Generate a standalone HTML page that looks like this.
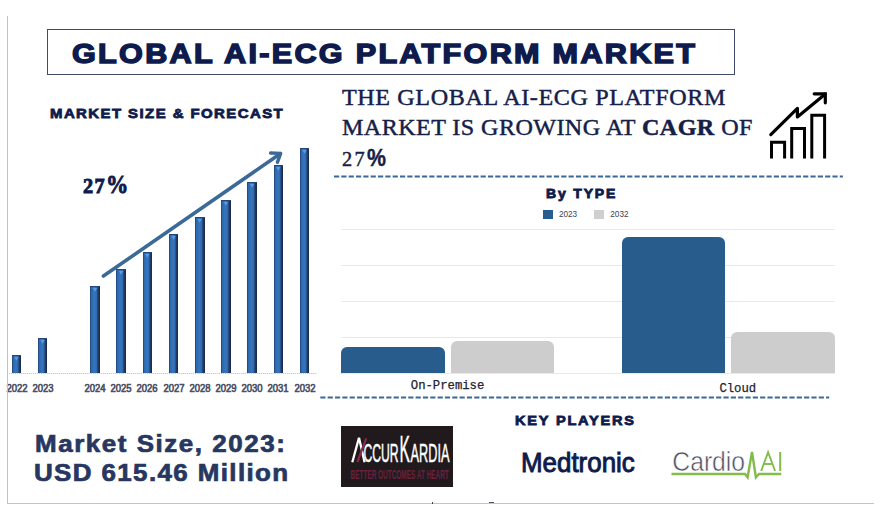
<!DOCTYPE html>
<html><head><meta charset="utf-8">
<style>
*{margin:0;padding:0;box-sizing:border-box}
html,body{width:885px;height:516px;overflow:hidden;background:#fff}
body{position:relative;font-family:"Liberation Sans",sans-serif}
.a{position:absolute;white-space:nowrap;transform-origin:0 0;line-height:1}
.navy{color:#0e1b4c}
.bar{position:absolute;width:9.5px;background:linear-gradient(90deg,#1f3c6e 0%,#2d68ad 14%,#3675bd 45%,#2f6aae 66%,#23406f 78%,#1a2642 100%);box-shadow:inset 0 1px 0 #24467a}
.bar:after{content:"";position:absolute;left:2.2px;top:1.6px;width:5px;height:4.2px;background:#5a9ae2;clip-path:polygon(0 0,100% 0,50% 100%)}
.yr{position:absolute;top:383.7px;font-size:10.2px;color:#474c5f;width:30px;text-align:center;line-height:1;font-weight:400;transform:scaleX(0.93);-webkit-text-stroke:0.6px #474c5f}
.grid{position:absolute;left:341px;width:494px;height:1px;background:#e6e9ed}
.ser{font-family:'Liberation Serif';font-size:23.4px;color:#152048;-webkit-text-stroke:0.45px #152048}
.ms{font-size:23.6px;font-weight:700;color:#27375f;transform:scaleX(1.1);-webkit-text-stroke:0.7px #27375f}
</style></head><body>

<!-- frame lines -->
<div style="position:absolute;left:7px;top:503px;width:867px;height:1.4px;background:#b5c7d8"></div>

<div style="position:absolute;left:432px;top:501.5px;width:1px;height:2px;background:#3a3f55"></div>
<div style="position:absolute;left:489px;top:501.8px;width:4.5px;height:1px;background:#4a4f65"></div>

<!-- title box -->
<div style="position:absolute;left:47px;top:29px;width:688px;height:46px;border:1.2px solid #424a69"></div>
<div class="a navy" style="left:71.5px;top:39.8px;font-size:27.8px;font-weight:700;transform:scaleX(1.1);letter-spacing:2.1px;-webkit-text-stroke:1.5px #0e1b4c">GLOBAL AI-ECG PLATFORM MARKET</div>

<!-- market size & forecast -->
<div class="a navy" style="left:49.5px;top:106.8px;font-size:13.6px;font-weight:700;transform:scaleX(1.1);letter-spacing:1.3px;-webkit-text-stroke:0.8px #0e1b4c">MARKET SIZE &amp; FORECAST</div>

<!-- 27% left -->
<div class="a navy" style="left:83px;top:174.3px;font-family:'Liberation Serif';font-size:20.3px;font-weight:700;-webkit-text-stroke:0.9px #0e1b4c;line-height:22px"><span style="letter-spacing:1.4px">27</span><span style="font-size:24.8px;display:inline-block;transform:scaleX(0.9);transform-origin:0 100%">%</span></div>

<!-- bar chart -->
<div style="position:absolute;left:9px;top:373px;width:308px;height:1px;background:repeating-linear-gradient(90deg,#cdcdcd 0 1.5px,#ececec 1.5px 2px)"></div>
<div class="bar" style="left:11.7px;top:355px;height:18px"></div>
<div class="bar" style="left:37.9px;top:338px;height:35px"></div>
<div class="bar" style="left:90.3px;top:286px;height:87px"></div>
<div class="bar" style="left:116.4px;top:269px;height:104px"></div>
<div class="bar" style="left:142.6px;top:252px;height:121px"></div>
<div class="bar" style="left:168.8px;top:234px;height:139px"></div>
<div class="bar" style="left:195px;top:217px;height:156px"></div>
<div class="bar" style="left:221.2px;top:200px;height:173px"></div>
<div class="bar" style="left:247.4px;top:182px;height:191px"></div>
<div class="bar" style="left:273.6px;top:165px;height:208px"></div>
<div class="bar" style="left:299.8px;top:148px;height:225px"></div>

<div class="yr" style="left:2.2px">2022</div>
<div class="yr" style="left:27.7px">2023</div>
<div class="yr" style="left:80.1px">2024</div>
<div class="yr" style="left:106.2px">2025</div>
<div class="yr" style="left:132.4px">2026</div>
<div class="yr" style="left:158.6px">2027</div>
<div class="yr" style="left:184.8px">2028</div>
<div class="yr" style="left:211px">2029</div>
<div class="yr" style="left:237.2px">2030</div>
<div class="yr" style="left:263.4px">2031</div>
<div class="yr" style="left:289.6px">2032</div>

<svg style="position:absolute;left:0;top:0" width="885" height="516">
  <g stroke="#3b6a98" stroke-width="3.6" stroke-linecap="round" stroke-linejoin="round" fill="none">
    <line x1="103.4" y1="276.1" x2="280.2" y2="153.7"/>
    <polyline stroke-width="3.4" points="270.6,153 280.7,153.4 277.4,162.3"/>
  </g>
</svg>

<!-- headline serif -->
<div class="a ser" style="left:341.5px;top:86.3px;transform:scaleX(1.03);letter-spacing:0.6px">THE GLOBAL AI-ECG PLATFORM</div>
<div class="a ser" style="left:341.5px;top:115.8px;transform:scaleX(1.03);letter-spacing:0.42px">MARKET IS GROWING AT <b>CAGR</b> OF</div>
<div class="a ser" style="left:342px;top:145.6px;font-size:20.4px"><span style="letter-spacing:2.2px">27</span><b style="font-family:'Liberation Sans';font-size:24.8px;display:inline-block;transform:scaleX(0.86);transform-origin:0 0;-webkit-text-stroke:0.4px #152048;vertical-align:-0.3px">%</b></div>

<!-- growth icon -->
<svg style="position:absolute;left:0;top:0" width="885" height="516">
  <g stroke="#000" stroke-width="3" fill="none" stroke-linejoin="miter">
    <polyline points="771.5,158.5 771.5,142.3 784.6,142.3 784.6,158.5"/>
    <polyline points="791.7,158.5 791.7,128.6 804.5,128.6 804.5,158.5"/>
    <polyline points="811.8,158.5 811.8,115.3 824.6,115.3 824.6,158.5"/>
    <polyline stroke-width="3.2" stroke-linecap="round" stroke-linejoin="round" points="770.8,134.6 797.4,108.4 797.4,117 825,94.2"/>
    <polyline stroke-width="3.2" stroke-linecap="round" points="814.2,93.8 825.3,93.8 825.3,102.8"/>
  </g>
</svg>

<!-- dashed separators -->
<svg style="position:absolute;left:0;top:0" width="885" height="516">
  <g stroke="#3b6997" stroke-width="2" stroke-dasharray="5.2 2.13">
    <line x1="334" y1="176.6" x2="842.9" y2="176.6"/>
    <line x1="320.3" y1="397.4" x2="829.2" y2="397.4"/>
  </g>
</svg>


<!-- By TYPE chart -->
<div class="a navy" style="left:546px;top:187.6px;font-size:12.3px;font-weight:700;transform:scaleX(1.14);letter-spacing:1.6px;-webkit-text-stroke:0.8px #0e1b4c">By TYPE</div>
<div style="position:absolute;left:543px;top:209.8px;width:9.5px;height:9px;background:#2a5d8f"></div>
<div class="a" style="left:558.9px;top:211px;font-size:8.2px;color:#3d4255">2023</div>
<div style="position:absolute;left:594.4px;top:209.8px;width:9.5px;height:9px;background:#cfcfcf"></div>
<div class="a" style="left:610.3px;top:211px;font-size:8.2px;color:#3d4255">2032</div>

<div class="grid" style="top:228.8px"></div>
<div class="grid" style="top:264.8px"></div>
<div class="grid" style="top:300.8px"></div>
<div class="grid" style="top:337.3px"></div>
<div class="grid" style="top:373px"></div>

<div style="position:absolute;left:341px;top:347px;width:103.8px;height:26px;background:#285c8d;border-radius:6px 6px 0 0"></div>
<div style="position:absolute;left:450.7px;top:341px;width:103.5px;height:32px;background:#cdcdcd;border-radius:6px 6px 0 0"></div>
<div style="position:absolute;left:621.7px;top:237px;width:103.5px;height:136px;background:#285c8d;border-radius:6px 6px 0 0"></div>
<div style="position:absolute;left:731.3px;top:332.2px;width:103.4px;height:40.8px;background:#cdcdcd;border-radius:6px 6px 0 0"></div>

<div class="a" style="left:410.8px;top:380px;font-family:'Liberation Mono';font-size:12.25px;color:#1f2230;-webkit-text-stroke:0.25px #1f2230">On-Premise</div>
<div class="a" style="left:719.4px;top:382.8px;font-family:'Liberation Mono';font-size:12.25px;color:#1f2230;-webkit-text-stroke:0.25px #1f2230">Cloud</div>

<!-- Market size -->
<div class="a ms" style="left:35px;top:433px;letter-spacing:1.4px">Market Size, 2023:</div>
<div class="a ms" style="left:33.8px;top:461.5px;letter-spacing:1.25px">USD 615.46 Million</div>

<!-- key players -->
<div class="a navy" style="left:515.3px;top:413.8px;font-size:13px;font-weight:700;transform:scaleX(1.12);letter-spacing:1.6px;-webkit-text-stroke:0.8px #0e1b4c">KEY PLAYERS</div>

<!-- AccurKardia -->
<div style="position:absolute;left:341px;top:425.6px;width:111.7px;height:61px;background:#211a1d"></div>
<svg style="position:absolute;left:0;top:0" width="885" height="516" font-family="Liberation Sans">
  <g fill="none" stroke-linecap="butt">
    <line x1="352.3" y1="462.2" x2="359" y2="437.8" stroke="#fff" stroke-width="2.3"/>
    <line x1="359" y1="437.8" x2="364.6" y2="462.2" stroke="#fff" stroke-width="2.3"/>
    <line x1="357.4" y1="462" x2="366.2" y2="438.4" stroke="#8a2a4a" stroke-width="2.2"/>
  </g>
  <text x="363.4" y="462.4" font-size="25.6" textLength="35.2" lengthAdjust="spacingAndGlyphs" fill="#fff" stroke="#fff" stroke-width="0.5">CCUR</text>
  <text x="399.6" y="462.4" font-size="37.5" textLength="10.4" lengthAdjust="spacingAndGlyphs" fill="#fff" stroke="#fff" stroke-width="0.5">K</text>
  <text x="410.6" y="462.4" font-size="26.6" textLength="38.8" lengthAdjust="spacingAndGlyphs" fill="#fff" stroke="#fff" stroke-width="0.5">ARDIA</text>
  <text x="350.6" y="479" font-size="13.6" font-weight="700" textLength="98.2" lengthAdjust="spacingAndGlyphs" fill="#6a213f">BETTER OUTCOMES AT HEART</text>
</svg>

<!-- Medtronic -->
<svg style="position:absolute;left:0;top:0" width="885" height="516" font-family="Liberation Sans">
  <text x="521" y="472.4" font-size="27.6" textLength="113.8" lengthAdjust="spacingAndGlyphs" fill="#0e1b4c" stroke="#0e1b4c" stroke-width="0.95">Medtronic</text>
</svg>

<!-- CardioAI -->
<svg style="position:absolute;left:0;top:0" width="885" height="516" font-family="Liberation Sans">
  <text x="672.3" y="471" font-size="27.8" textLength="72.8" lengthAdjust="spacingAndGlyphs" fill="#4a5068" stroke="#fff" stroke-width="0.55">Cardio</text>
</svg>
<svg style="position:absolute;left:0;top:0" width="885" height="516">
  <g stroke="#84bb4c" fill="none" stroke-linejoin="miter">
    <polyline stroke-width="2.4" points="671.5,474 745,474 747.6,477.3 752,452 755.9,477.3 759,474 781.2,474"/>
    <polyline stroke-width="1.9" points="761.2,471 768.1,452.2 775.1,471"/>
    <line stroke-width="1.9" x1="764" y1="464" x2="772.5" y2="464"/>
    <line stroke-width="2" x1="780.2" y1="452" x2="780.2" y2="471"/>
  </g>
</svg>

<div style="position:absolute;left:7px;top:16px;width:1.2px;height:488px;background:#b3c5d7"></div>
</body></html>
